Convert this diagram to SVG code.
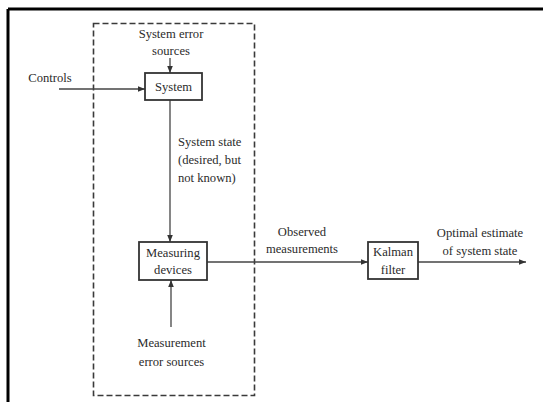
<svg xmlns="http://www.w3.org/2000/svg" width="543" height="402" viewBox="0 0 543 402">
<defs>
<style>
text{font-family:"Liberation Serif","Times New Roman",serif;font-size:12.6px;fill:#2b2b2b;text-anchor:middle}
.box{fill:#fff;stroke:#333;stroke-width:1.8}
.ln{fill:none;stroke:#444;stroke-width:1.3}
.dash{fill:none;stroke:#3a3a3a;stroke-width:1.6;stroke-dasharray:6 3}
</style>
<marker id="ah" viewBox="0 0 10 10" refX="10" refY="5" markerWidth="8" markerHeight="7" markerUnits="userSpaceOnUse" orient="auto">
<path d="M0,1 L10,5 L0,9 Z" fill="#333"/>
</marker>
</defs>
<rect width="543" height="402" fill="#fff"/>
<g id="frame">
<line x1="8" y1="9" x2="543" y2="9" stroke="#000" stroke-width="3"/>
<line x1="8" y1="9" x2="8" y2="402" stroke="#000" stroke-width="3"/>
</g>
<g id="boundary">
<rect class="dash" x="93.5" y="23.5" width="161" height="372"/>
</g>
<g id="connectors">
<line class="ln" x1="59" y1="89" x2="145" y2="89" marker-end="url(#ah)"/>
<line class="ln" x1="170" y1="58" x2="170" y2="73" marker-end="url(#ah)"/>
<line class="ln" x1="170" y1="100" x2="170" y2="242" marker-end="url(#ah)"/>
<line class="ln" x1="171" y1="327" x2="171" y2="280" marker-end="url(#ah)"/>
<line class="ln" x1="207" y1="262" x2="368" y2="262" marker-end="url(#ah)"/>
<line class="ln" x1="418" y1="262" x2="526" y2="262" marker-end="url(#ah)"/>
</g>
<g id="controls">
<text x="50" y="82">Controls</text>
</g>
<g id="system-error-sources">
<text x="171" y="38">System error</text>
<text x="171" y="55">sources</text>
</g>
<g id="system">
<rect class="box" x="145" y="73" width="57" height="27"/>
<text x="173.5" y="91">System</text>
</g>
<g id="system-state-label">
<text x="178" y="146" style="text-anchor:start">System state</text>
<text x="178" y="164" style="text-anchor:start">(desired, but</text>
<text x="178" y="182" style="text-anchor:start">not known)</text>
</g>
<g id="measuring-devices">
<rect class="box" x="139" y="242" width="68" height="38"/>
<text x="173" y="257">Measuring</text>
<text x="173" y="274">devices</text>
</g>
<g id="measurement-error-sources">
<text x="171.5" y="347">Measurement</text>
<text x="171.5" y="366">error sources</text>
</g>
<g id="observed-label">
<text x="302" y="236">Observed</text>
<text x="302" y="253">measurements</text>
</g>
<g id="kalman-filter">
<rect class="box" x="368" y="242" width="50" height="37"/>
<text x="393" y="256">Kalman</text>
<text x="393" y="274">filter</text>
</g>
<g id="optimal-estimate-label">
<text x="480" y="237">Optimal estimate</text>
<text x="480" y="255">of system state</text>
</g>
</svg>
